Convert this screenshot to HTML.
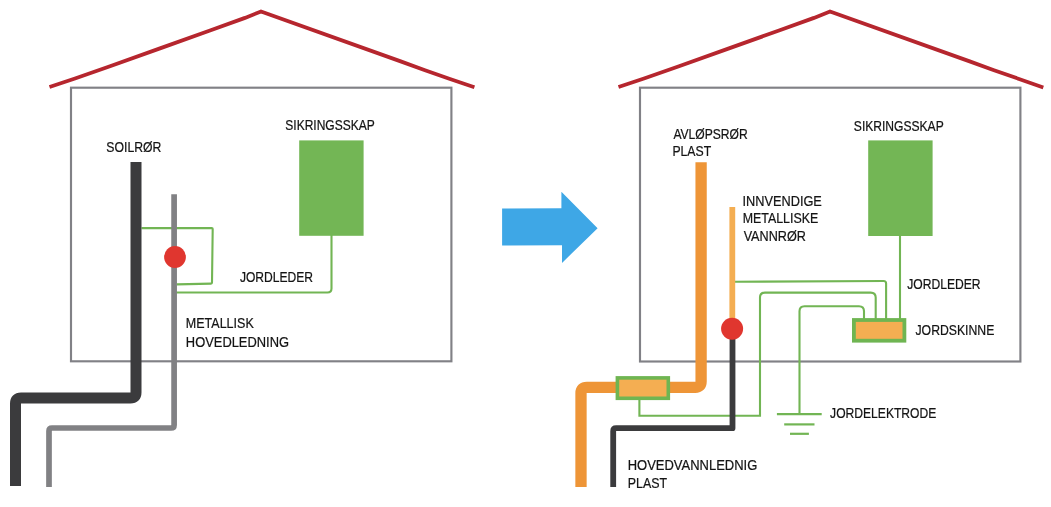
<!DOCTYPE html>
<html>
<head>
<meta charset="utf-8">
<style>
html,body{margin:0;padding:0;background:#ffffff;}
body{width:1051px;height:507px;overflow:hidden;}
svg{display:block;will-change:transform;}
text{font-family:"Liberation Sans",sans-serif;font-size:14px;fill:#141414;stroke:#141414;stroke-width:0.22px;}
</style>
</head>
<body>
<svg width="1051" height="507" viewBox="0 0 1051 507">
<rect x="0" y="0" width="1051" height="507" fill="#ffffff"/>

<!-- ============ LEFT HOUSE ============ -->
<g id="left">
  <polyline points="49.5,87 75,78.5 110,66.2 160,48.4 210,30.5 245,17.9 261,11.5 400,61.1 425,70.25 450,78.93 474.4,87.3" fill="none" stroke="#b6262e" stroke-width="3.8" stroke-linejoin="miter"/>
  <rect x="71" y="87.7" width="380.4" height="273.6" fill="none" stroke="#818186" stroke-width="2.15"/>

  <!-- green wires -->
  <path d="M141.5,228.1 H211.7 Q212.7,228.1 212.7,229.1 L212,282.6 Q212,283.6 211,283.6 L177,284.4" fill="none" stroke="#72b554" stroke-width="2.1"/>
  <path d="M175,292.5 H327.5 Q331.5,292.5 331.5,288.5 V235" fill="none" stroke="#72b554" stroke-width="2.1"/>
  <rect x="299.2" y="140.4" width="64.4" height="95.4" fill="#73b655"/>

  <!-- soil pipe -->
  <path d="M136,162 V392.5 Q136,398 130.5,398 H21 Q15.5,398 15.5,403.5 V486" fill="none" stroke="#3b3b3d" stroke-width="11" stroke-linejoin="round"/>
  <!-- grey pipe -->
  <path d="M174.1,194.2 V425 Q174.1,428 171.1,428 H52 Q49,428 49,431 V487" fill="none" stroke="#818184" stroke-width="5.7" stroke-linejoin="round"/>
  <circle cx="175" cy="257" r="10.9" fill="#e0362f"/>

  <text x="106.34" y="152.1" textLength="55.02" lengthAdjust="spacingAndGlyphs">SOILRØR</text>
  <text x="285.35" y="130.4" textLength="89.38" lengthAdjust="spacingAndGlyphs">SIKRINGSSKAP</text>
  <text x="239.91" y="281.7" textLength="73.15" lengthAdjust="spacingAndGlyphs">JORDLEDER</text>
  <text x="185.87" y="328.4" textLength="67.87" lengthAdjust="spacingAndGlyphs">METALLISK</text>
  <text x="185.84" y="346.6" textLength="103.22" lengthAdjust="spacingAndGlyphs">HOVEDLEDNING</text>
</g>

<!-- ============ ARROW ============ -->
<polygon points="502.1,208.6 561.4,208.2 561.4,191.7 597.6,228.2 562,262.9 562,245.3 502.1,245.5" fill="#3ea7e6"/>

<!-- ============ RIGHT HOUSE ============ -->
<g id="right">
  <polyline points="618.5,87 644,78.5 679,66.2 729,48.4 779,30.5 814,17.9 830,11.5 969,61.1 994,70.25 1019,78.93 1043.3,87.5" fill="none" stroke="#b6262e" stroke-width="3.8" stroke-linejoin="miter"/>
  <rect x="640" y="87.7" width="380.4" height="273.8" fill="none" stroke="#818186" stroke-width="2.15"/>

  <rect x="868.2" y="140.4" width="64.4" height="95.6" fill="#73b655"/>
  <!-- green wires -->
  <line x1="900" y1="235" x2="900" y2="320" stroke="#72b554" stroke-width="2.1"/>
  <path d="M735,281.8 L883.6,281 Q886.1,281 886.1,283.5 V320" fill="none" stroke="#72b554" stroke-width="2.1"/>
  <path d="M639.4,400 V415.7 H760 V297.6 Q760,292.6 765,292.6 H870.7 Q875.7,292.6 875.7,297.6 V320" fill="none" stroke="#72b554" stroke-width="2.1"/>
  <path d="M799.5,414 V311.3 Q799.5,306.2 804.5,306.2 H859 Q864,306.2 864,311.2 V320" fill="none" stroke="#72b554" stroke-width="2.1"/>
  <!-- ground -->
  <line x1="776.9" y1="414.1" x2="821.7" y2="414.1" stroke="#72b554" stroke-width="2.2"/>
  <line x1="784.2" y1="424.4" x2="814.5" y2="424.4" stroke="#72b554" stroke-width="2.2"/>
  <line x1="790" y1="433.8" x2="808.9" y2="433.8" stroke="#72b554" stroke-width="2.2"/>

  <!-- jordskinne -->
  <rect x="853.9" y="320" width="50.5" height="20.7" fill="#f4ae52" stroke="#6fb552" stroke-width="3.8"/>

  <!-- orange pipe -->
  <path d="M701.1,162.3 V381.5 Q701.1,387.3 695.3,387.3 H586.8 Q581,387.3 581,393.1 V487" fill="none" stroke="#ee9537" stroke-width="11.3" stroke-linejoin="round"/>
  <!-- coupler -->
  <rect x="617.4" y="377.9" width="50.9" height="20.4" fill="#f4ae52" stroke="#6fb552" stroke-width="3.6"/>

  <!-- light orange internal pipe -->
  <line x1="732.3" y1="207" x2="732.3" y2="330" stroke="#f4ae52" stroke-width="5.8"/>
  <!-- dark main water pipe -->
  <path d="M732.5,330 V428.2 H616.2 Q613.2,428.2 613.2,431.2 V487" fill="none" stroke="#3b3b3d" stroke-width="5.8" stroke-linejoin="round"/>
  <circle cx="732.1" cy="328.7" r="11" fill="#e0362f"/>

  <text x="673.38" y="138.6" textLength="74.38" lengthAdjust="spacingAndGlyphs">AVLØPSRØR</text>
  <text x="672.4" y="156.2" textLength="38.79" lengthAdjust="spacingAndGlyphs">PLAST</text>
  <text x="742.52" y="205.5" textLength="79.32" lengthAdjust="spacingAndGlyphs">INNVENDIGE</text>
  <text x="742.68" y="223.2" textLength="75.55" lengthAdjust="spacingAndGlyphs">METALLISKE</text>
  <text x="743.64" y="241.4" textLength="62.24" lengthAdjust="spacingAndGlyphs">VANNRØR</text>
  <text x="853.85" y="130.9" textLength="89.88" lengthAdjust="spacingAndGlyphs">SIKRINGSSKAP</text>
  <text x="907.21" y="289.3" textLength="73.35" lengthAdjust="spacingAndGlyphs">JORDLEDER</text>
  <text x="915.51" y="335.1" textLength="78.82" lengthAdjust="spacingAndGlyphs">JORDSKINNE</text>
  <text x="830.11" y="417.8" textLength="106.21" lengthAdjust="spacingAndGlyphs">JORDELEKTRODE</text>
  <text x="627.74" y="470.4" textLength="129.53" lengthAdjust="spacingAndGlyphs">HOVEDVANNLEDNIG</text>
  <text x="627.78" y="488.2" textLength="39.3" lengthAdjust="spacingAndGlyphs">PLAST</text>
</g>
</svg>
</body>
</html>
